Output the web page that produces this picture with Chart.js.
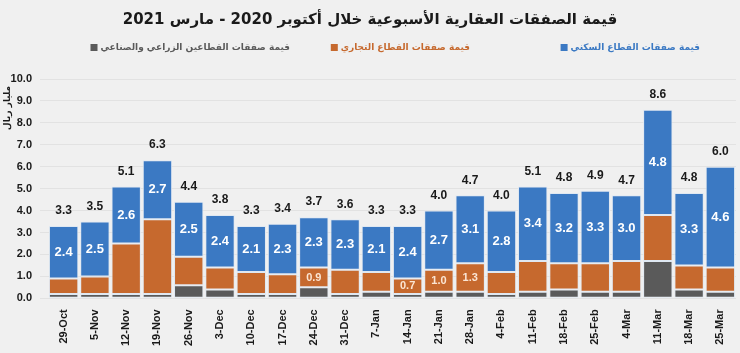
<!DOCTYPE html>
<html>
<head>
<meta charset="utf-8">
<style>
  html, body { margin: 0; padding: 0; background: #f0f0f0; }
  #wrap { width: 740px; height: 353px; }
</style>
</head>
<body>
<div id="wrap"><canvas id="chart" width="740" height="353"></canvas></div>

<script src="https://cdn.jsdelivr.net/npm/chart.js"></script>
<script>
const weeks = ['29-Oct', '5-Nov', '12-Nov', '19-Nov', '26-Nov', '3-Dec', '10-Dec', '17-Dec', '24-Dec', '31-Dec', '7-Jan',
  '14-Jan', '21-Jan', '28-Jan', '4-Feb', '11-Feb', '18-Feb', '25-Feb', '4-Mar', '11-Mar', '18-Mar', '25-Mar'];

// billion riyal
const agriIndustrial = [0.2, 0.2, 0.2, 0.2, 0.6, 0.4, 0.2, 0.2, 0.5, 0.2, 0.3,
  0.2, 0.3, 0.3, 0.2, 0.3, 0.4, 0.3, 0.3, 1.7, 0.4, 0.3];
const commercial = [0.7, 0.8, 2.3, 3.4, 1.3, 1.0, 1.0, 0.9, 0.9, 1.1, 0.9,
  0.7, 1.0, 1.3, 1.0, 1.4, 1.2, 1.3, 1.4, 2.1, 1.1, 1.1];
const residential = [2.4, 2.5, 2.6, 2.7, 2.5, 2.4, 2.1, 2.3, 2.3, 2.3, 2.1,
  2.4, 2.7, 3.1, 2.8, 3.4, 3.2, 3.3, 3.0, 4.8, 3.3, 4.6];
const totals = [3.3, 3.5, 5.1, 6.3, 4.4, 3.8, 3.3, 3.4, 3.7, 3.6, 3.3,
  3.3, 4.0, 4.7, 4.0, 5.1, 4.8, 4.9, 4.7, 8.6, 4.8, 6.0];
// commercial values that carry a label in the original
const commercialShown = ['24-Dec', '14-Jan', '21-Jan', '28-Jan'];

const seriesNames = ['قيمة صفقات القطاعين الزراعي والصناعي', 'قيمة صفقات القطاع التجاري', 'قيمة صفقات القطاع السكني'];
const seriesColors = ['#5a5a5a', '#c6692e', '#3b79c3'];
const yTicks = [0, 1, 2, 3, 4, 5, 6, 7, 8, 9, 10];
const yTitle = 'مليار ريال';

const numFont = "'Liberation Sans Narrow', 'Liberation Sans', sans-serif";
const arFont = "'DejaVu Sans', sans-serif";

const labelsPlugin = {
  id: 'labels',
  beforeDraw(chart) {
    const ctx = chart.ctx;
    ctx.save();
    ctx.fillStyle = '#f0f0f0';
    ctx.fillRect(0, 0, chart.width, chart.height);
    ctx.restore();
  },
  afterDatasetsDraw(chart) {
    const ctx = chart.ctx;
    const orange = chart.getDatasetMeta(1).data;
    const blue = chart.getDatasetMeta(2).data;
    ctx.save();
    ctx.textAlign = 'center';
    ctx.textBaseline = 'middle';
    blue.forEach((bar, i) => {
      ctx.fillStyle = '#ffffff';
      ctx.font = 'bold 13px ' + numFont;
      ctx.fillText(residential[i].toFixed(1), bar.x, (bar.y + bar.base) / 2);
      ctx.fillStyle = '#1a1a1a';
      ctx.font = 'bold 12px ' + numFont;
      ctx.fillText(totals[i].toFixed(1), bar.x, bar.y - 15);
    });
    orange.forEach((bar, i) => {
      if (!commercialShown.includes(weeks[i])) return;
      ctx.fillStyle = '#fbe5d3';
      ctx.font = 'bold 11px ' + numFont;
      ctx.fillText(commercial[i].toFixed(1), bar.x, (bar.y + bar.base) / 2);
    });

    // legend: text right edges as in the original, box to the left of the text
    const legendRight = [290, 470, 700];
    ctx.textAlign = 'right';
    ctx.direction = 'rtl';
    ctx.font = 'bold 9px ' + arFont;
    seriesNames.forEach((name, k) => {
      const w = ctx.measureText(name).width;
      ctx.fillStyle = seriesColors[k];
      ctx.fillText(name, legendRight[k], 48);
      ctx.fillRect(legendRight[k] - w - 10, 44, 7, 7);
    });

    // y axis unit, rotated, just under the top tick
    ctx.translate(8, 108);
    ctx.rotate(-Math.PI / 2);
    ctx.textAlign = 'center';
    ctx.fillStyle = '#1a1a1a';
    ctx.font = 'bold 9px ' + arFont;
    ctx.fillText(yTitle, 0, 0);
    ctx.restore();
  }
};

new Chart(document.getElementById('chart'), {
  type: 'bar',
  data: {
    labels: weeks,
    datasets: [
      { label: seriesNames[0], data: agriIndustrial, backgroundColor: seriesColors[0] },
      { label: seriesNames[1], data: commercial, backgroundColor: seriesColors[1] },
      { label: seriesNames[2], data: residential, backgroundColor: seriesColors[2] }
    ]
  },
  options: {
    responsive: false,
    animation: false,
    maintainAspectRatio: false,
    layout: { padding: { left: 4, right: 4, top: 0, bottom: 4 } },
    datasets: {
      bar: {
        categoryPercentage: 1,
        barPercentage: 0.94,
        borderColor: '#dfe8f2',
        borderWidth: 1,
        borderSkipped: false
      }
    },
    plugins: {
      legend: { display: false },
      tooltip: { enabled: false },
      title: {
        display: true,
        text: 'قيمة الصفقات العقارية الأسبوعية خلال أكتوبر 2020 - مارس 2021',
        color: '#1a1a1a',
        font: { family: arFont, size: 15, weight: 'bold' },
        padding: { top: 11, bottom: 50 }
      }
    },
    scales: {
      x: {
        stacked: true,
        grid: { display: false },
        border: { display: false },
        ticks: {
          minRotation: 90,
          maxRotation: 90,
          autoSkip: false,
          color: '#1a1a1a',
          font: { family: numFont, size: 11, weight: 'bold' }
        }
      },
      y: {
        stacked: true,
        min: 0,
        max: 10,
        afterBuildTicks(scale) {
          scale.ticks = yTicks.map(v => ({ value: v }));
        },
        afterFit(scale) {
          scale.width = 44;
        },
        grid: { color: '#e2e2e2', lineWidth: 1 },
        border: { display: false },
        ticks: {
          color: '#1a1a1a',
          padding: 8,
          font: { family: numFont, size: 11, weight: 'bold' },
          callback: v => v.toFixed(1)
        }
      }
    }
  },
  plugins: [labelsPlugin]
});
</script>
</body>
</html>
